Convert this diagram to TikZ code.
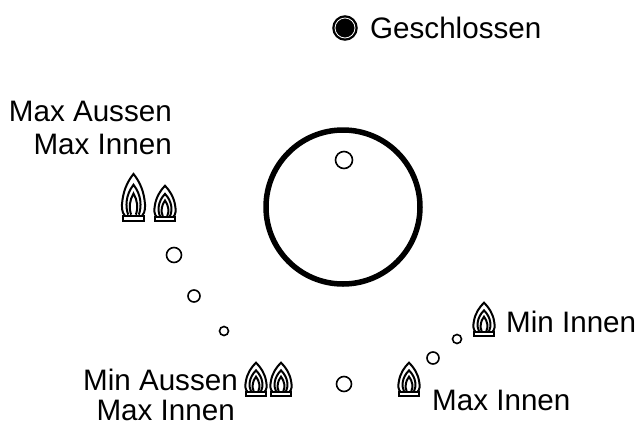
\documentclass[tikz,border=0pt]{standalone}
\usepackage{fontspec}
\setmainfont{Liberation Sans}
\newcommand{\flameicon}[4]{% cx, bottom y, width, height
\begin{scope}[shift={(#1,#2)},x=#3pt,y=#4pt]
\draw[flameline,fill=white] (-.36,.13) .. controls (-.5,.2) and (-.5,.32) .. (-.46,.45) .. controls (-.4,.68) and (-.2,.86) .. (0,.98) .. controls (.2,.86) and (.4,.68) .. (.46,.45) .. controls (.5,.32) and (.5,.2) .. (.36,.13);
\draw[flameline] (-.22,.15) .. controls (-.34,.3) and (-.34,.55) .. (0,.76) .. controls (.34,.55) and (.34,.3) .. (.22,.15);
\draw[flameline] (-.1,.15) .. controls (-.2,.3) and (-.16,.45) .. (0,.58) .. controls (.16,.45) and (.2,.3) .. (.1,.15);
\draw[flameline,fill=white] (-.44,.13) rectangle (.44,.02);
\end{scope}}
\tikzset{
  flameline/.style={line width=2pt,black},
  port/.style={circle,draw=black,line width=1.6pt,fill=white,inner sep=0pt},
  lbl/.style={font=\fontsize{29.6}{33}\selectfont,inner sep=0pt,text=black,align=right}
}
\begin{document}
\begin{tikzpicture}[x=1pt,y=-1pt]
\useasboundingbox (0,0) rectangle (637,421);
\node[circle,draw=black,line width=5.5pt,minimum size=154pt,inner sep=0pt] (dial) at (343,207) {};
\node[port,minimum size=17pt] (pTop) at (344,160) {};
\node[port,minimum size=15pt] (p1) at (174,255) {};
\node[port,minimum size=12pt] (p2) at (194,296) {};
\node[port,minimum size=9pt] (p3) at (224,331) {};
\node[port,minimum size=15pt] (p4) at (344,384) {};
\node[port,minimum size=12pt] (p5) at (433,358) {};
\node[port,minimum size=9pt] (p6) at (457,339) {};
\node[circle,fill=black,draw=black,line width=1.5pt,minimum size=24pt,inner sep=0pt] (closed) at (345,28) {};
\node[circle,draw=white,line width=.8pt,minimum size=20pt,inner sep=0pt] (closedring) at (345,28) {};
\flameicon{133.5}{222}{24}{49}
\flameicon{165}{222}{22}{37}
\flameicon{256}{397}{22}{35}
\flameicon{281}{397}{22}{35}
\flameicon{409}{397}{22}{35}
\flameicon{484}{337}{22}{35}
\node[lbl,anchor=west] (tGes) at (370,28) {Geschlossen};
\node[lbl,anchor=east] (tMax) at (172,128) {Max Aussen\\Max Innen};
\node[lbl,anchor=east] (tMin) at (238,380) {Min Aussen};
\node[lbl,anchor=east] (tMinB) at (235,410) {Max Innen};
\node[lbl,anchor=west] (tMaxI) at (432,400) {Max Innen};
\node[lbl,anchor=west] (tMinI) at (506,322) {Min Innen};
\end{tikzpicture}
\end{document}
